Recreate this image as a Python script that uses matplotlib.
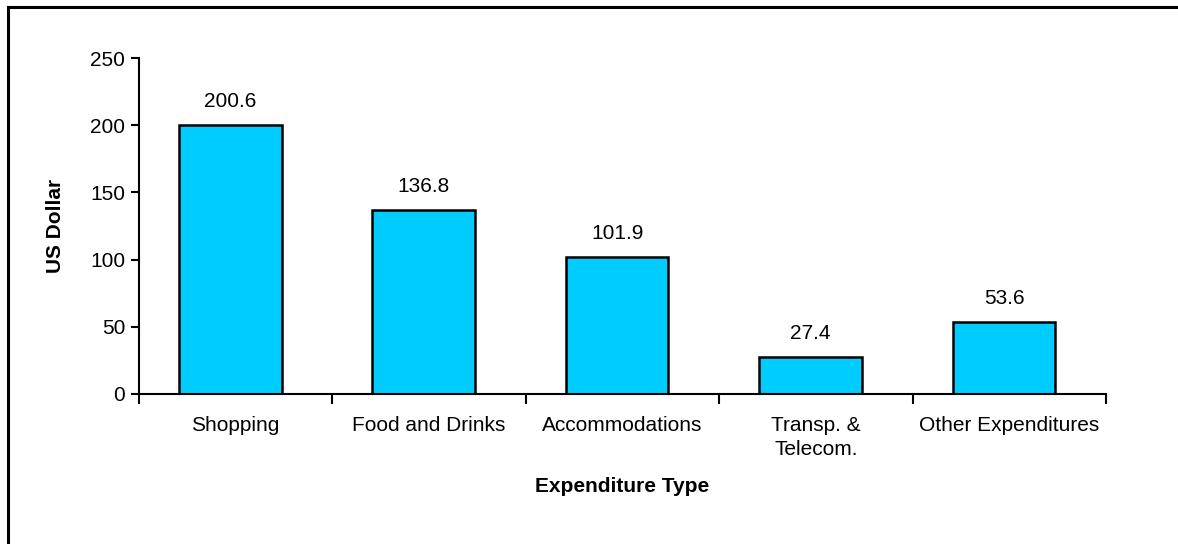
import matplotlib
matplotlib.use("Agg")
import matplotlib.pyplot as plt
from matplotlib.patches import Rectangle
import numpy as np

plt.rcParams['font.family'] = ['Liberation Sans', 'DejaVu Sans']

# average spend per visitor by expenditure type
categories = ["Shopping", "Food and Drinks", "Accommodations",
              "Transp. &\nTelecom.", "Other Expenditures"]
spend = [200.6, 136.8, 101.9, 27.4, 53.6]
yticks = [0, 50, 100, 150, 200, 250]

fig = plt.figure(figsize=(11.78, 5.44), dpi=100)
ax = fig.add_axes([0.118, 0.276, 0.821, 0.617])

x = np.arange(len(categories))
# bars sit a touch left of the category centre
bx = x - 0.028
ax.bar(bx, spend, width=0.53, color="#00CCFF", edgecolor="black", linewidth=1.8)

for xi, v in zip(bx, spend):
    ax.annotate("%.1f" % v, (xi, v), xytext=(0, 10), textcoords="offset points",
                ha="center", va="bottom", fontsize=15)

ax.set_xlim(-0.5, len(categories) - 0.5)
ax.set_ylim(0, 250)
ax.set_yticks(yticks)
ax.tick_params(axis="y", labelsize=15, length=6, width=1.5, pad=4)

# category labels centred, tick marks on the category boundaries
ax.set_xticks(x)
ax.set_xticklabels(categories, fontsize=15, linespacing=1.3)
ax.tick_params(axis="x", which="major", length=0, pad=16)
ax.set_xticks(np.arange(len(categories) + 1) - 0.5, minor=True)
ax.tick_params(axis="x", which="minor", length=7, width=1.5)

for side in ["top", "right"]:
    ax.spines[side].set_visible(False)
for side in ["left", "bottom"]:
    ax.spines[side].set_linewidth(1.5)

ax.set_xlabel("Expenditure Type", fontsize=15, fontweight="bold", labelpad=13)
ax.set_ylabel("US Dollar", fontsize=15, fontweight="bold", labelpad=18)

# chart border, running off the right and bottom edges
fig.patches.append(Rectangle((8 / 1178, -0.1), 1.2, 1.1 - 7 / 544,
                             transform=fig.transFigure, fill=False,
                             edgecolor="black", linewidth=2.2, clip_on=False))

fig.savefig("out.png", dpi=100)
